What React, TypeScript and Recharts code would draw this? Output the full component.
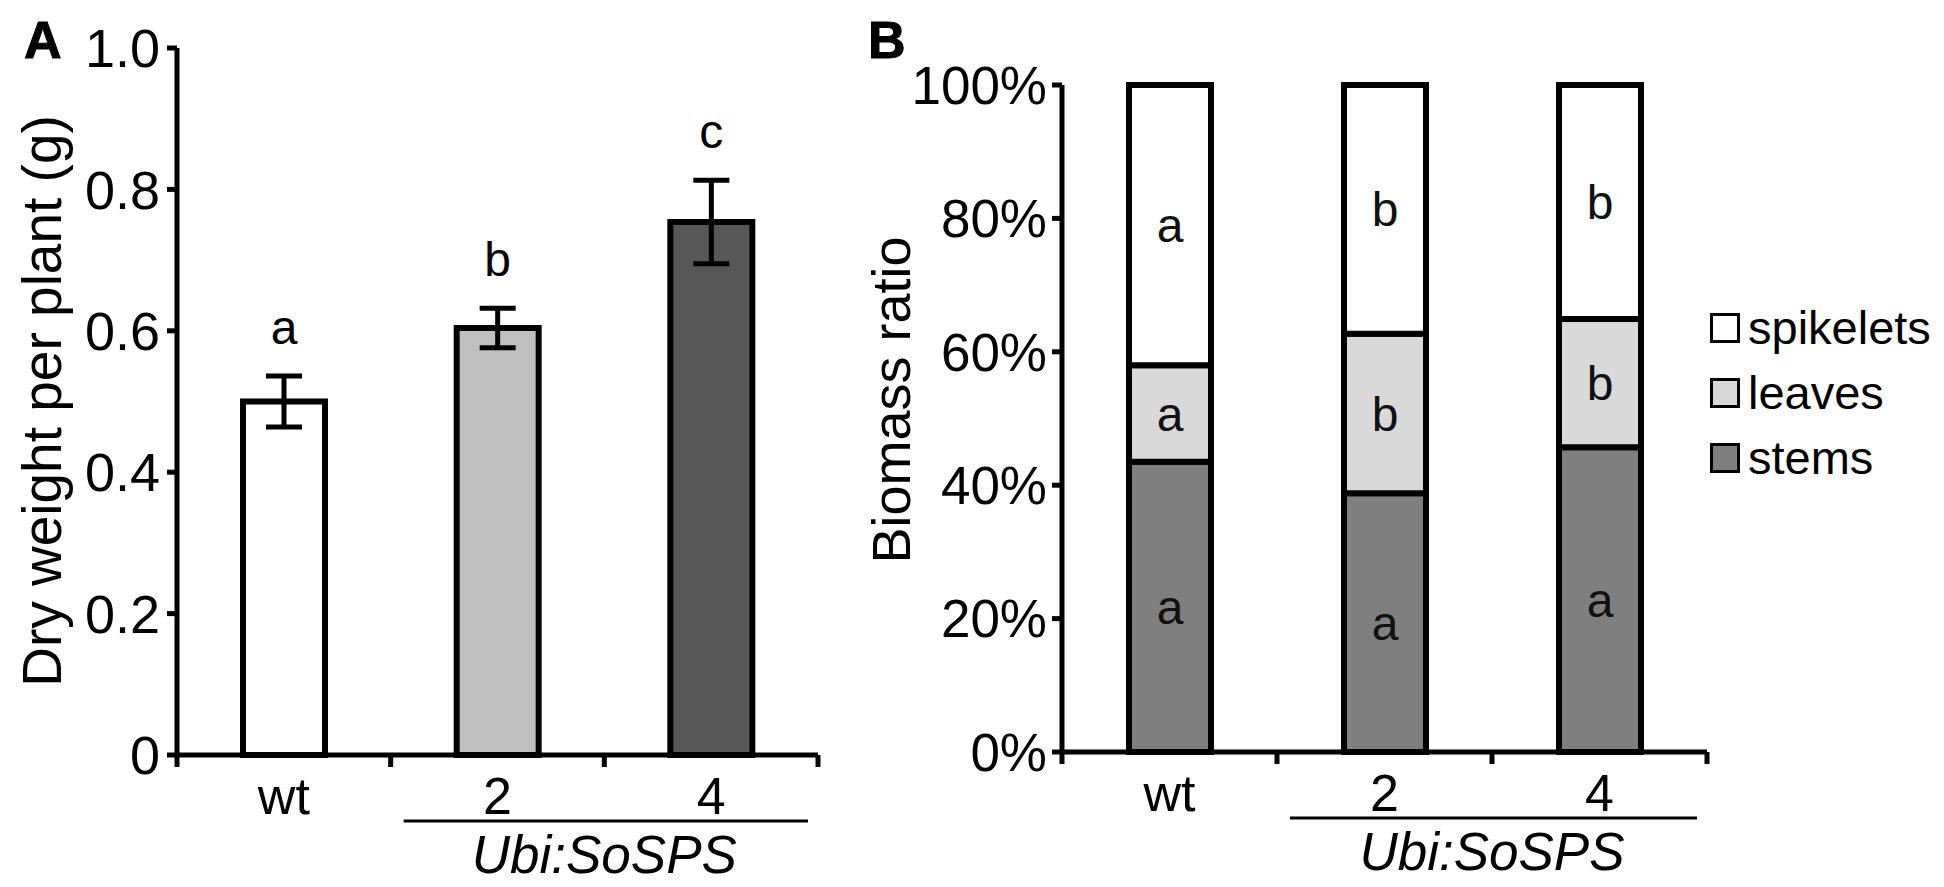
import React from 'react';
import { BarChart, Bar, XAxis, YAxis, ErrorBar, Cell, LabelList, Legend } from 'recharts';

const FONT = '"Liberation Sans", Arial, sans-serif';

// Panel A: dry weight per plant (g)
const categories = ['wt', '2', '4'];
const dryWeight = [0.5, 0.604, 0.754];
const dryWeightErr = [0.036, 0.028, 0.059];
const dryLetters = ['a', 'b', 'c'];
const dryFills = ['#ffffff', '#bfbfbf', '#575757'];
const dryTicks = [0, 0.2, 0.4, 0.6, 0.8, 1.0];

// Panel B: biomass ratio (%)
const stems = [43.5, 38.8, 45.7];
const leaves = [14.5, 23.9, 19.2];
const spikelets = [42.0, 37.3, 35.1];
const stemLetters = ['a', 'a', 'a'];
const leafLetters = ['a', 'b', 'b'];
const spikeletLetters = ['a', 'b', 'b'];
const ratioTicks = [0, 20, 40, 60, 80, 100];

const partFills: Record<string, string> = {
  stems: '#7f7f7f',
  leaves: '#d9d9d9',
  spikelets: '#ffffff',
};
const legendOrder = ['spikelets', 'leaves', 'stems'];

const groupLabel = 'Ubi:SoSPS';

const dryData = categories.map((name, i) => ({
  name,
  weight: dryWeight[i],
  err: dryWeightErr[i],
  letter: dryLetters[i],
}));

const ratioData = categories.map((name, i) => ({
  name,
  stems: stems[i],
  leaves: leaves[i],
  spikelets: spikelets[i],
  stemL: stemLetters[i],
  leafL: leafLetters[i],
  spikeL: spikeletLetters[i],
}));

// x axis ticks sit on the category boundaries, with the transgenic lines underlined
const makeTick = (band: number) => (props: any) => {
  const { x, y, payload, index } = props;
  const half = band / 2;
  return (
    <g>
      <line x1={x - half} x2={x - half} y1={y} y2={y + 12} stroke="#000" strokeWidth={5} />
      {index === categories.length - 1 && (
        <line x1={x + half} x2={x + half} y1={y} y2={y + 12} stroke="#000" strokeWidth={5} />
      )}
      <text x={x} y={y + 59} textAnchor="middle" fontSize={52} fill="#000" fontFamily={FONT}>
        {payload.value}
      </text>
      {index === 1 && (
        <g>
          <line x1={x - half + 13} x2={x + band * 1.5 - 10} y1={y + 66} y2={y + 66} stroke="#000" strokeWidth={3} />
          <text x={x + half} y={y + 118} textAnchor="middle" fontSize={53} fontStyle="italic" fill="#000" fontFamily={FONT}>
            {groupLabel}
          </text>
        </g>
      )}
    </g>
  );
};

const renderLetter = (props: any) => {
  const vb = props.viewBox || props;
  const x = props.x ?? vb.x;
  const y = props.y ?? vb.y;
  const width = props.width ?? vb.width;
  const height = props.height ?? vb.height;
  const i = props.index ?? dryLetters.indexOf(props.value);
  const pxPerUnit = height / dryWeight[i];
  const errTop = y - dryWeightErr[i] * pxPerUnit;
  return (
    <text x={x + width / 2} y={errTop - 32} textAnchor="middle" fontSize={48} fill="#000" fontFamily={FONT}>
      {props.value}
    </text>
  );
};

const renderLegend = (props: any) => {
  const payload: any[] = props.payload || [];
  const items = legendOrder
    .map((name) => payload.find((p) => p.value === name))
    .filter(Boolean);
  return (
    <div style={{ fontFamily: FONT }}>
      {items.map((item: any) => (
        <div key={item.value} style={{ display: 'flex', alignItems: 'center', height: 65 }}>
          <span
            style={{
              display: 'inline-block',
              width: 24,
              height: 24,
              border: '3px solid #000',
              background: partFills[item.value] ?? item.color,
              marginRight: 8,
            }}
          />
          <span style={{ fontSize: 47, color: '#000', lineHeight: '65px' }}>{item.value}</span>
        </div>
      ))}
    </div>
  );
};

const axisStroke = { stroke: '#000', strokeWidth: 5 };

const App: React.FC = () => {
  return (
    <div style={{ position: 'absolute', left: 0, top: 0, width: 1944, height: 887, background: '#fff', fontFamily: FONT }}>
      <div style={{ position: 'absolute', left: 0, top: 0 }}>
        <BarChart width={860} height={887} data={dryData} margin={{ top: 48, right: 42, bottom: 0, left: 0 }}>
          <XAxis
            dataKey="name"
            height={132}
            interval={0}
            tickLine={false}
            tickSize={0}
            tickMargin={0}
            axisLine={axisStroke}
            tick={makeTick((860 - 42 - 177) / 3)}
          />
          <YAxis
            width={177}
            domain={[0, 1]}
            ticks={dryTicks}
            interval={0}
            tickSize={10}
            tickMargin={7}
            tickLine={axisStroke}
            axisLine={axisStroke}
            tick={{ fill: '#000', fontSize: 54 }}
            tickFormatter={(v: number) => (v === 0 ? '0' : v.toFixed(1))}
            label={{
              content: () => (
                <g fontFamily={FONT} fill="#000">
                  <text x={24} y={58} fontSize={52} fontWeight="bold" stroke="#000" strokeWidth={1}>A</text>
                  <text x={61} y={401} fontSize={55} textAnchor="middle" transform="rotate(-90 61 401)">
                    Dry weight per plant (g)
                  </text>
                </g>
              ),
            }}
          />
          <Bar dataKey="weight" barSize={82} stroke="#000" strokeWidth={6} isAnimationActive={false}>
            {dryData.map((d, i) => (
              <Cell key={d.name} fill={dryFills[i]} />
            ))}
            <ErrorBar dataKey="err" width={18} strokeWidth={5} stroke="#000" isAnimationActive={false} />
            <LabelList dataKey="letter" content={renderLetter} />
          </Bar>
        </BarChart>
      </div>
      <div style={{ position: 'absolute', left: 860, top: 0 }}>
        <BarChart width={1084} height={887} data={ratioData} margin={{ top: 85, right: 237, bottom: 0, left: 0 }}>
          <XAxis
            dataKey="name"
            height={135}
            interval={0}
            tickLine={false}
            tickSize={0}
            tickMargin={0}
            axisLine={axisStroke}
            tick={makeTick((1084 - 237 - 202) / 3)}
          />
          <YAxis
            width={202}
            domain={[0, 100]}
            ticks={ratioTicks}
            interval={0}
            tickSize={10}
            tickMargin={5}
            tickLine={axisStroke}
            axisLine={axisStroke}
            tick={{ fill: '#000', fontSize: 53 }}
            tickFormatter={(v: number) => `${v}%`}
            label={{
              content: () => (
                <g fontFamily={FONT} fill="#000">
                  <text x={8} y={58} fontSize={52} fontWeight="bold" stroke="#000" strokeWidth={1}>B</text>
                  <text x={50} y={400} fontSize={54} textAnchor="middle" transform="rotate(-90 50 400)">
                    Biomass ratio
                  </text>
                </g>
              ),
            }}
          />
          <Legend
            layout="vertical"
            align="center"
            verticalAlign="middle"
            wrapperStyle={{ left: 850, top: 295, width: 240 }}
            content={renderLegend}
          />
          <Bar dataKey="stems" name="stems" stackId="r" barSize={82} fill={partFills.stems} stroke="#000" strokeWidth={6} isAnimationActive={false}>
            <LabelList dataKey="stemL" position="center" fill="#111" fontSize={48} fontFamily={FONT} />
          </Bar>
          <Bar dataKey="leaves" name="leaves" stackId="r" barSize={82} fill={partFills.leaves} stroke="#000" strokeWidth={6} isAnimationActive={false}>
            <LabelList dataKey="leafL" position="center" fill="#111" fontSize={48} fontFamily={FONT} />
          </Bar>
          <Bar dataKey="spikelets" name="spikelets" stackId="r" barSize={82} fill={partFills.spikelets} stroke="#000" strokeWidth={6} isAnimationActive={false}>
            <LabelList dataKey="spikeL" position="center" fill="#111" fontSize={48} fontFamily={FONT} />
          </Bar>
        </BarChart>
      </div>
    </div>
  );
};

export default App;
